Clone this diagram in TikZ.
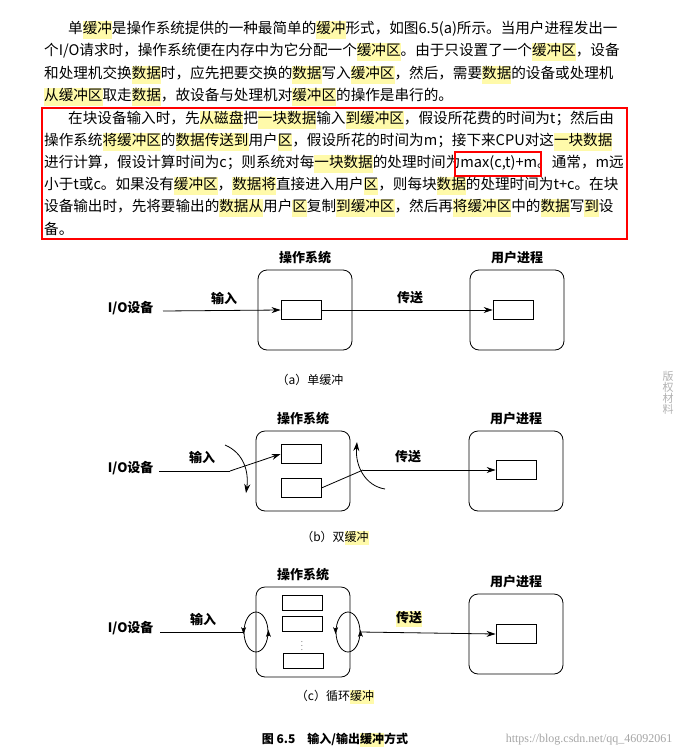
\documentclass[tikz,border=0pt]{standalone}
\usepackage{fontspec}
\setmainfont{Liberation Serif}
\newfontfamily\cjk{Noto Sans CJK SC}
\usetikzlibrary{arrows.meta,shapes.geometric,positioning}
\XeTeXlinebreaklocale "zh"
\XeTeXlinebreakskip=0pt plus 4pt minus 0.5pt
\definecolor{hlyellow}{RGB}{255,250,170}
\newcommand{\hl}[1]{{\setlength\fboxsep{0pt}\colorbox{hlyellow}{\strut #1}}}
\newcommand{\fline}[1]{\hbox to 583pt{#1}}
\tikzset{
  para/.style={anchor=west,inner sep=0pt,font=\cjk\fontsize{14.6}{17}\selectfont},
  osbox/.style={draw,thick,rounded corners=9pt,minimum width=94pt,minimum height=80pt},
  buf/.style={draw,thick,minimum width=40pt,minimum height=19pt},
  lbl/.style={font=\cjk\bfseries\fontsize{13}{14}\selectfont},
  captxt/.style={font=\cjk\fontsize{12}{13}\selectfont},
  ring/.style={draw,thick,ellipse,minimum width=24pt,minimum height=40pt,inner sep=0pt},
  flow/.style={thick,-{Stealth[length=9pt,width=6pt]}}
}
\begin{document}
\begin{tikzpicture}[x=1pt,y=-1pt]
\useasboundingbox[fill=white](0,0)rectangle(680,753);
%paragraph one
\node[para](p1a)at(68,30){\hbox to 559pt{单\hl{缓冲}是操作系统提供的一种最简单的\hl{缓冲}形式，如图6.5(a)所示。当用户进程发出一}};
\node[para](p1b)at(44,52){\fline{个I/O请求时，操作系统便在内存中为它分配一个\hl{缓冲区}。由于只设置了一个\hl{缓冲区}，设备}};
\node[para](p1c)at(44,75){\fline{和处理机交换\hl{数据}时，应先把要交换的\hl{数据}写入\hl{缓冲区}，然后，需要\hl{数据}的设备或处理机}};
\node[para](p1d)at(44,97){\hl{从缓冲区}取走\hl{数据}，故设备与处理机对\hl{缓冲区}的操作是串行的。};
%paragraph two
\node[para](p2a)at(68,120){\hbox to 559pt{在块设备输入时，先\hl{从磁盘}把\hl{一块数据}输入\hl{到缓冲区}，假设所花费的时间为t；然后由}};
\node[para](p2b)at(44,142){\fline{操作系统\hl{将缓冲区}的\hl{数据传送到}用户\hl{区}，假设所花的时间为m；接下来CPU对这\hl{一块数据}}};
\node[para](p2c)at(44,164){\fline{进行计算，假设计算时间为c；则系统对每\hl{一块数据}的处理时间为max(c,t)+m。通常，m远}};
\node[para](p2d)at(44,186){\fline{小于t或c。如果没有\hl{缓冲区}，\hl{数据将}直接进入用户\hl{区}，则每块\hl{数据}的处理时间为t+c。在块}};
\node[para](p2e)at(44,208){\fline{设备输出时，先将要输出的\hl{数据从}用户\hl{区}复制\hl{到缓冲区}，然后再\hl{将缓冲区}中的\hl{数据}写\hl{到}设}};
\node[para](p2f)at(44,229){备。};
\draw[red,line width=1.6pt](42,108)rectangle(627,239);
\draw[red,line width=1.6pt](455,152)rectangle(541,176);
%(a) single buffer
\node[osbox](osa)at(305,310){};
\node[osbox](usa)at(517,310){};
\node[lbl,above=2pt of osa](osal){操作系统};
\node[lbl,above=2pt of usa](usal){用户进程};
\node[buf](bufa)at(301,310){};
\node[buf](ubufa)at(513,310){};
\node[lbl,anchor=east](ioa)at(157,308){I/O设备};
\draw[flow](ioa.east)++(6,3)coordinate(ina)--(bufa.west);
\draw[flow](bufa.east)--(ubufa.west);
\node[lbl](inla)at(224,298){输入};
\node[lbl](tra)at(410,298){传送};
\node[captxt](capa)at(310,380){（a）单缓冲};
%(b) double buffer
\node[osbox](osb)at(303,471){};
\node[osbox](usb)at(516,471){};
\node[lbl,above=2pt of osb](osbl){操作系统};
\node[lbl,above=2pt of usb](usbl){用户进程};
\node[buf](bufb1)at(301,454){};
\node[buf](bufb2)at(301,488){};
\node[buf](ubufb)at(516,470){};
\node[lbl,anchor=east](iob)at(157,468){I/O设备};
\coordinate(kinb)at(230,471);
\coordinate(ktrb)at(363,470);
\draw[thick](iob.east)++(2,3)--(kinb);
\draw[flow](kinb)--(bufb1.west);
\draw[thick](bufb2.east)--(ktrb);
\draw[flow](ktrb)--(ubufb.west);
\draw[flow](225,445)..controls(244,453)and(249,472)..(246,493);
\draw[flow](385,489)..controls(366,486)and(355,467)..(357,442);
\node[lbl](inlb)at(202,457){输入};
\node[lbl](trb)at(408,457){传送};
\node[captxt](capb)at(335,538){（b）双\hl{缓冲}};
%(c) circular buffer
\node[osbox,minimum height=90pt](osc)at(303,632){};
\node[osbox](usc)at(516,634){};
\node[lbl,above=2pt of osc](oscl){操作系统};
\node[lbl,above=2pt of usc](uscl){用户进程};
\node[buf,minimum height=15pt](bufc1)at(302,603){};
\node[buf,minimum height=15pt](bufc2)at(302,624){};
\node[font=\tiny\bfseries,inner sep=0pt](dotsc)at(302,643){\vdots};
\node[buf,minimum height=15pt](bufc3)at(303,661){};
\node[buf](ubufc)at(516,634){};
\node[ring](lring)at(256,632){};
\node[ring](rring)at(348,632){};
\draw[-{Stealth[length=7pt,width=5pt]}]([yshift=4]lring.west)--([yshift=-2]lring.west);
\draw[-{Stealth[length=7pt,width=5pt]}]([yshift=-4]lring.east)--([yshift=2]lring.east);
\draw[-{Stealth[length=7pt,width=5pt]}]([yshift=4]rring.west)--([yshift=-2]rring.west);
\draw[-{Stealth[length=7pt,width=5pt]}]([yshift=-4]rring.east)--([yshift=2]rring.east);
\node[lbl,anchor=east](ioc)at(157,628){I/O设备};
\draw[thick](ioc.east)++(3,4)--(lring.west);
\draw[flow](rring.east)--(ubufc.west);
\node[lbl](inlc)at(203,619){输入};
\node[lbl](trc)at(409,619){\hl{传送}};
\node[captxt](capc)at(335,697){（c）循环\hl{缓冲}};
%figure caption and marks
\node[captxt,font=\cjk\bfseries\fontsize{12}{13}\selectfont](figcap)at(335,740){图 6.5\quad 输入/输出\hl{缓冲}方式};
\node[font=\cjk\fontsize{11}{11}\selectfont,text=gray!60,align=center](side)at(668,393){版\\权\\材\\料};
\node[font=\fontsize{12}{12}\selectfont,text=gray!70,anchor=east](url)at(676,740){https://blog.csdn.net/qq\_46092061};
\end{tikzpicture}
\end{document}
